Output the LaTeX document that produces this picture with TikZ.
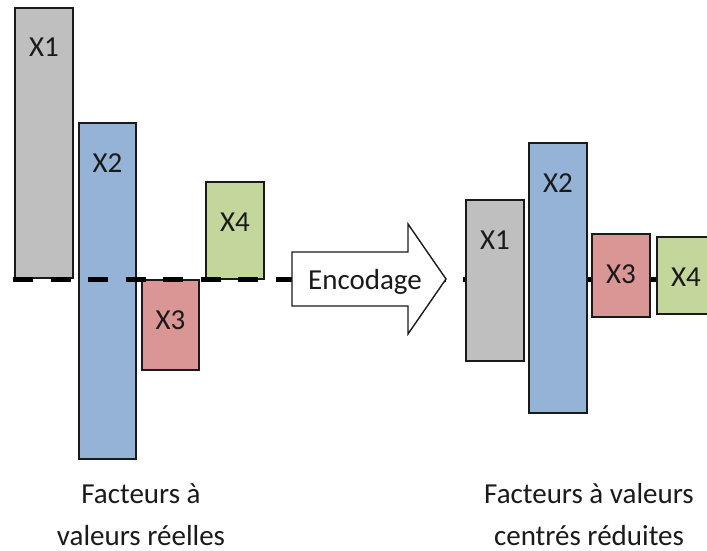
\documentclass[tikz,border=0pt]{standalone}
\usepackage{fontspec}
\setmainfont{Carlito}
\usetikzlibrary{positioning}
\definecolor{bargray}{HTML}{BFBFBF}
\definecolor{barblue}{HTML}{95B3D7}
\definecolor{barred}{HTML}{D99694}
\definecolor{bargreen}{HTML}{C3D69B}
\definecolor{ink}{HTML}{1A1A1A}

\begin{document}
\begin{tikzpicture}[x=1pt,y=-1pt,
    bar/.style={draw=ink,line width=1.2pt,rectangle,inner sep=0pt,outer sep=0pt},
    lab/.style={font=\fontsize{29}{42}\selectfont,text=ink,inner sep=0pt},
    baseline/.style={draw=black,line width=5pt,dash pattern=on 20pt off 17.5pt},
    arrowbox/.style={draw=ink,fill=white,line width=1.4pt,line join=miter}]
      \useasboundingbox (0,0) rectangle (707,551);
      % left chart: raw values around the mean line
      \node[bar,fill=bargray, minimum width=58pt,minimum height=270pt] (l1) at (44,143) {};
      \node[bar,fill=barblue, minimum width=57pt,minimum height=336pt] (l2) at (107.5,291) {};
      \node[bar,fill=barred,  minimum width=57pt,minimum height=90pt]  (l3) at (170.5,325) {};
      \node[bar,fill=bargreen,minimum width=58pt,minimum height=97pt]  (l4) at (235,230.5) {};
      \node[lab,anchor=base] (l1t) at ([yshift=-49pt]l1.north) {X1};
      \node[lab,anchor=base] (l2t) at ([yshift=-49pt]l2.north) {X2};
      \node[lab,anchor=base] (l3t) at ([yshift=-49pt]l3.north) {X3};
      \node[lab,anchor=base] (l4t) at ([yshift=-49pt]l4.north) {X4};
      % dashed zero line, over the left bars, under the rest
      \coordinate (zl) at (13,279);
      \coordinate (zr) at (707,279);
      \draw[baseline] (zl) -- (zr);
      % big arrow
      \draw[arrowbox] (292,252) -- (408,252) -- (408,224) -- (446,279)
        -- (408,334) -- (408,306) -- (292,306) -- cycle;
      \node[lab,anchor=base] (enc) at (365,289) {Encodage};
      % right chart: centred and scaled values
      \node[bar,fill=bargray, minimum width=58pt,minimum height=161pt] (r1) at (495,280.5) {};
      \node[bar,fill=barblue, minimum width=58pt,minimum height=270pt] (r2) at (558,278) {};
      \node[bar,fill=barred,  minimum width=58pt,minimum height=83pt]  (r3) at (621,275.5) {};
      \node[bar,fill=bargreen,minimum width=58pt,minimum height=77pt]  (r4) at (686,275.5) {};
      \node[lab,anchor=base] (r1t) at ([yshift=-49pt]r1.north) {X1};
      \node[lab,anchor=base] (r2t) at ([yshift=-49pt]r2.north) {X2};
      \node[lab,anchor=base] (r3t) at ([yshift=-49pt]r3.north) {X3};
      \node[lab,anchor=base] (r4t) at ([yshift=-49pt]r4.north) {X4};
      % captions (base = last line)
      \node[lab,align=center,anchor=base] (capl) at (141,545) {Facteurs à\\valeurs réelles};
      \node[lab,align=center,anchor=base] (capr) at (589,545) {Facteurs à valeurs\\centrés réduites};
    \end{tikzpicture}
\end{document}
